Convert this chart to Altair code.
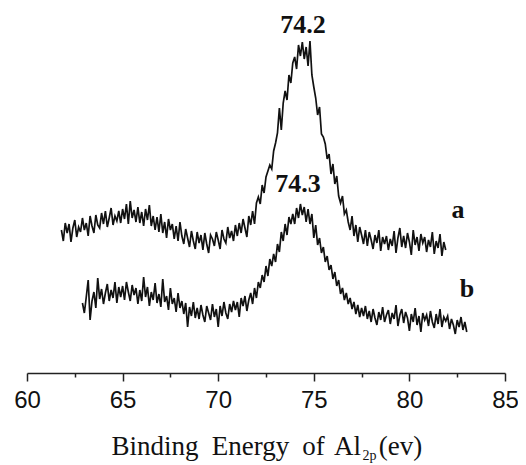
import altair as alt
import pandas as pd

# ---- data (intensity in arbitrary units) ----
a_start = 61.8   # eV, first sample of spectrum a, step 0.1 eV
a_vals = [
    143, 132, 150, 140, 149, 131, 145, 153, 136, 146,
    141, 155, 143, 150, 137, 157, 147, 140, 158, 148,
    145, 160, 149, 162, 146, 155, 165, 148, 157, 152,
    162, 150, 164, 154, 169, 149, 172, 155, 163, 151,
    166, 150, 161, 147, 164, 153, 168, 147, 157, 143,
    156, 141, 159, 140, 151, 135, 154, 143, 149, 134,
    147, 132, 151, 137, 129, 144, 135, 126, 142, 132,
    124, 141, 130, 138, 123, 140, 129, 120, 138, 134,
    127, 141, 133, 124, 143, 134, 130, 146, 135, 142,
    132, 148, 137, 150, 140, 154, 145, 136, 157, 148,
    162, 149, 170, 176, 169, 188, 180, 196, 202, 208,
    204, 222, 230, 240, 265, 243, 270, 282, 273, 298,
    290, 310, 316, 304, 328, 317, 331, 314, 326, 307,
    332, 298, 286, 275, 258, 266, 239, 236, 229, 214,
    219, 199, 209, 189, 197, 177, 170, 177, 159, 163,
    151, 143, 157, 137, 148, 131, 146, 138, 129, 143,
    127, 141, 133, 124, 138, 130, 143, 122, 136, 129,
    137, 123, 134, 127, 142, 120, 135, 145, 126, 137,
    125, 140, 131, 118, 143, 128, 136, 122, 139, 130,
    136, 121, 133, 126, 141, 119, 132, 125, 139, 117,
    131, 123,
]
b_start = 62.9   # eV, first sample of spectrum b, step 0.1 eV
b_vals = [
    70, 60, 76, 93, 53, 72, 81, 65, 95, 74,
    84, 69, 80, 89, 72, 83, 75, 91, 70, 86,
    76, 87, 73, 91, 81, 72, 88, 78, 85, 69,
    83, 72, 96, 76, 86, 67, 81, 73, 90, 70,
    79, 66, 94, 71, 77, 63, 85, 69, 75, 61,
    80, 65, 72, 59, 70, 46, 66, 57, 71, 55,
    65, 54, 68, 58, 51, 67, 60, 53, 69, 56,
    64, 46, 67, 57, 71, 60, 54, 69, 61, 72,
    63, 71, 56, 75, 67, 77, 62, 73, 80, 69,
    85, 75, 91, 85, 98, 91, 107, 97, 114, 107,
    119, 111, 129, 121, 141, 132, 149, 138, 156, 149,
    159, 149, 165, 155, 169, 158, 166, 151, 164, 149,
    159, 135, 148, 128, 135, 120, 126, 111, 117, 103,
    108, 94, 101, 87, 93, 79, 85, 73, 80, 69,
    75, 64, 71, 59, 68, 56, 65, 57, 67, 54,
    62, 51, 64, 55, 48, 61, 53, 66, 51, 58,
    63, 49, 60, 54, 68, 47, 58, 64, 50, 61,
    55, 42, 59, 51, 65, 48, 57, 41, 60, 53,
    58, 47, 62, 51, 45, 59, 49, 64, 46, 56,
    52, 57, 44, 54, 48, 39, 53, 46, 56, 43,
    51, 41,
]

tick_values = [60, 62.5, 65, 67.5, 70, 72.5, 75, 77.5, 80, 82.5, 85]

ann_text = ["74.2", "74.3", "a", "b"]
ann_x = [74.43, 74.17, 82.54, 83.01]
ann_y = [340, 181, 155, 76]

title_words = ["Binding", "Energy", "of", "Al", "(ev)"]
title_sub = "2p"

# ---- layout (pixels) ----
title_centers = [128, 223.5, 286.5, 320.5, 373.5]
title_baseline = 442
sub_center = 342.5
sub_baseline = 447

a_x = [round(a_start + 0.1 * i, 1) for i in range(len(a_vals))]
b_x = [round(b_start + 0.1 * i, 1) for i in range(len(b_vals))]
df = pd.concat([
    pd.DataFrame({"series": "a", "x": a_x, "v": a_vals}),
    pd.DataFrame({"series": "b", "x": b_x, "v": b_vals}),
])
ann_df = pd.DataFrame({"t": ann_text, "x": ann_x, "v": ann_y})

xscale = alt.Scale(domain=[60, 85], nice=False, zero=False)
yscale = alt.Scale(domain=[0, 360], nice=False, zero=False)

lines = alt.Chart(df).mark_line(strokeWidth=1.7, color="#111").encode(
    x=alt.X("x:Q", scale=xscale, axis=alt.Axis(
        values=tick_values,
        labelExpr="datum.value % 5 === 0 ? datum.label : ''",
        tickSize={"condition": {"test": "datum.value % 5 === 0", "value": 8}, "value": 4},
        tickColor="#222", tickWidth=1.5,
        domainColor="#222", domainWidth=1.5,
        labelFont="Liberation Sans", labelFontSize=24, labelColor="#111",
        labelPadding=7, labelOverlap=False, labelFlush=False,
        grid=False, title=None,
    )),
    y=alt.Y("v:Q", scale=yscale, axis=None),
    detail="series:N",
)

ann = alt.Chart(ann_df).mark_text(
    font="Liberation Serif", fontWeight="bold", fontSize=26,
    baseline="alphabetic", align="center", color="#111",
).encode(x=alt.X("x:Q", scale=xscale), y=alt.Y("v:Q", scale=yscale), text="t:N")

title_layers = []
for word, cx in zip(title_words, title_centers):
    title_layers.append(
        alt.Chart(pd.DataFrame({"t": [word]})).mark_text(
            font="Liberation Serif", fontSize=27, baseline="alphabetic",
            align="center", color="#111",
        ).encode(x=alt.value(cx), y=alt.value(title_baseline), text="t:N")
    )
title_layers.append(
    alt.Chart(pd.DataFrame({"t": [title_sub]})).mark_text(
        font="Liberation Serif", fontSize=14, baseline="alphabetic",
        align="center", color="#111",
    ).encode(x=alt.value(sub_center), y=alt.value(sub_baseline), text="t:N")
)

chart = alt.layer(lines, ann, *title_layers).properties(
    width=478, height=360,
    autosize=alt.AutoSizeParams(type="none"),
    padding={"left": 19, "top": 5, "right": 13, "bottom": 92},
).configure_view(stroke=None)

chart.save("out.html", embed_options={"renderer": "svg", "actions": False})
